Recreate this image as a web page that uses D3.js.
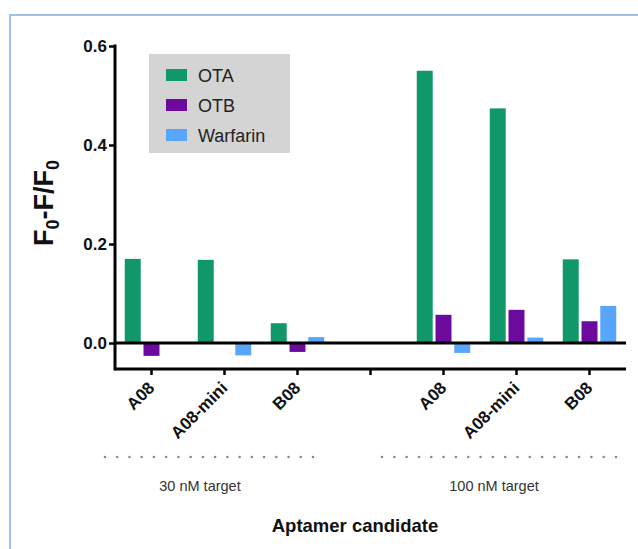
<!DOCTYPE html>
<html>
<head>
<meta charset="utf-8">
<script src="https://cdn.jsdelivr.net/npm/d3@7"></script>
<style>
  html, body { margin: 0; padding: 0; background: #fff; }
  svg { display: block; font-family: "Liberation Sans", Arial, sans-serif; }
</style>
</head>
<body>
<svg id="chart" width="638" height="549"></svg>
<script>
// Categories along the x axis (empty slot separates the two target concentrations)
const categories = ["A08", "A08-mini", "B08", "", "A08 ", "A08-mini ", "B08 "];
const tickLabels = ["A08", "A08-mini", "B08", "", "A08", "A08-mini", "B08"];
const series = ["OTA", "OTB", "Warfarin"];
const colors = ["#10986a", "#6c0a9e", "#57a6fb"];

// F0-F/F0 per category for each target
const otaValues      = [0.170, 0.168, 0.040, null, 0.550, 0.474, 0.169];
const otbValues      = [-0.026, 0.000, -0.018, null, 0.057, 0.067, 0.044];
const warfarinValues = [0.000, -0.025, 0.012, null, -0.020, 0.011, 0.075];

const yTicks = [0.0, 0.2, 0.4, 0.6];
const groupLabels = ["30 nM target", "100 nM target"];

const valuesBySeries = [otaValues, otbValues, warfarinValues];

const svg = d3.select("#chart");

// outer frame
svg.append("rect")
  .attr("x", 10).attr("y", 15)
  .attr("width", 700).attr("height", 600)
  .attr("fill", "none")
  .attr("stroke", "#a3bde9")
  .attr("stroke-width", 2);

const plotLeft = 115, plotRight = 626, plotTop = 46, plotBottom = 369;

const x0 = d3.scaleBand().domain(categories).range([plotLeft, plotRight]).padding(0);
const x1 = d3.scaleBand().domain(series).range([0, x0.bandwidth()])
  .paddingInner(0.15).paddingOuter(0.52);
const y = d3.scaleLinear().domain([-0.0525, 0.6]).range([plotBottom, plotTop]);

// bars
series.forEach((s, si) => {
  const vals = valuesBySeries[si];
  svg.append("g")
    .selectAll("rect")
    .data(categories.map((c, i) => ({ c, v: vals[i] })).filter(d => d.v !== null))
    .join("rect")
    .attr("x", d => x0(d.c) + x1(s))
    .attr("width", x1.bandwidth())
    .attr("y", d => y(Math.max(0, d.v)))
    .attr("height", d => Math.abs(y(d.v) - y(0)))
    .attr("fill", colors[si]);
});

// y axis
const yAxis = d3.axisLeft(y)
  .tickValues(yTicks)
  .tickFormat(d3.format(".1f"))
  .tickSize(6)
  .tickPadding(2);
const yg = svg.append("g").attr("transform", `translate(${plotLeft},0)`).call(yAxis);
yg.select(".domain").remove();
yg.append("line")
  .attr("x1", 0).attr("x2", 0)
  .attr("y1", y(0.6) - 1.5).attr("y2", plotBottom + 1.5)
  .attr("stroke", "#000").attr("stroke-width", 3);
yg.selectAll(".tick line").attr("stroke", "#000").attr("stroke-width", 2.5);
yg.selectAll(".tick text")
  .attr("font-size", 17).attr("font-weight", "bold").attr("fill", "#111");

// zero line
svg.append("line")
  .attr("x1", plotLeft).attr("x2", plotRight)
  .attr("y1", y(0)).attr("y2", y(0))
  .attr("stroke", "#000").attr("stroke-width", 3);

// bottom x axis
const xAxis = d3.axisBottom(x0)
  .tickSize(6)
  .tickFormat((d, i) => tickLabels[i]);
const xg = svg.append("g").attr("transform", `translate(0,${plotBottom})`).call(xAxis);
xg.select(".domain").remove();
xg.append("line")
  .attr("x1", plotLeft).attr("x2", plotRight)
  .attr("y1", 0).attr("y2", 0)
  .attr("stroke", "#000").attr("stroke-width", 3);
xg.selectAll(".tick line").attr("stroke", "#000").attr("stroke-width", 2.5);
xg.selectAll(".tick text")
  .attr("font-size", 17).attr("font-weight", "bold").attr("fill", "#111")
  .attr("text-anchor", "end")
  .attr("dy", null).attr("y", null)
  .attr("transform", "translate(4,20) rotate(-45)");

// y axis title with subscripts
const yt = svg.append("text")
  .attr("transform", "translate(53,203) rotate(-90)")
  .attr("text-anchor", "middle")
  .attr("font-size", 27).attr("font-weight", "bold").attr("fill", "#111");
yt.append("tspan").text("F");
yt.append("tspan").attr("font-size", 18).attr("dy", 6).text("0");
yt.append("tspan").attr("dy", -6).text("-F/F");
yt.append("tspan").attr("font-size", 18).attr("dy", 6).text("0");

// legend
const lg = svg.append("g");
lg.append("rect")
  .attr("x", 149).attr("y", 54).attr("width", 141).attr("height", 99)
  .attr("fill", "#d4d4d4");
series.forEach((s, i) => {
  lg.append("rect")
    .attr("x", 166).attr("y", 69 + i * 30).attr("width", 21).attr("height", 12)
    .attr("fill", colors[i]);
  lg.append("text")
    .attr("x", 198).attr("y", 81.5 + i * 30)
    .attr("font-size", 18).attr("fill", "#222")
    .text(s);
});

// dotted group separators and group labels
const groups = [
  { x1: 105, x2: 313, cx: 200 },
  { x1: 382, x2: 616, cx: 494 }
];
groups.forEach((g, gi) => {
  const n = Math.round((g.x2 - g.x1) / 12.2);
  const dots = d3.range(n + 1).map(k => g.x1 + k * (g.x2 - g.x1) / n);
  svg.append("g").selectAll("circle")
    .data(dots).join("circle")
    .attr("cx", d => d).attr("cy", 457).attr("r", 1.3)
    .attr("fill", "#8a8a8a");
  svg.append("text")
    .attr("x", g.cx).attr("y", 491)
    .attr("text-anchor", "middle")
    .attr("font-size", 14.5).attr("fill", "#333")
    .text(groupLabels[gi]);
});

// x axis title
svg.append("text")
  .attr("x", 355).attr("y", 532)
  .attr("text-anchor", "middle")
  .attr("font-size", 18.5).attr("font-weight", "bold").attr("fill", "#111")
  .text("Aptamer candidate");
</script>
</body>
</html>
